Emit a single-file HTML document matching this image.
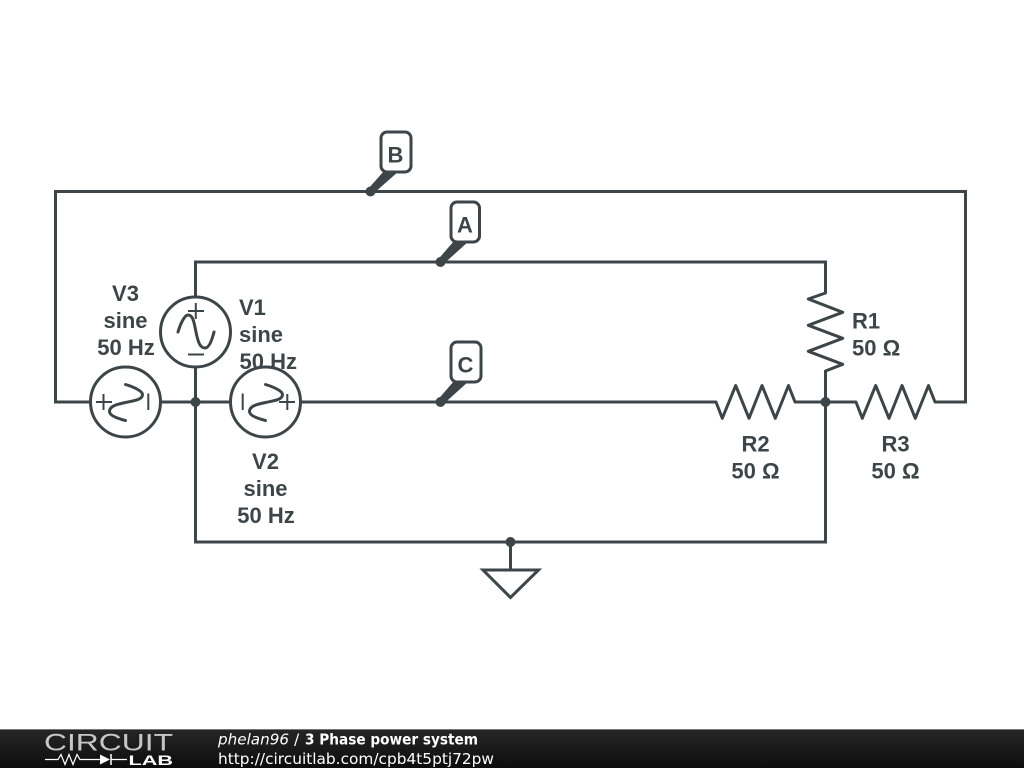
<!DOCTYPE html>
<html>
<head>
<meta charset="utf-8">
<style>
html,body{margin:0;padding:0;background:#fff;width:1024px;height:768px;overflow:hidden}
svg{display:block}
.w{fill:none;stroke:#3d4549;stroke-width:3;stroke-linejoin:miter}
.r{fill:none;stroke:#3d4549;stroke-width:3;stroke-linejoin:round;stroke-linecap:round}
.s{fill:none;stroke:#3d4549;stroke-width:2}
.t{font-family:"Liberation Sans",sans-serif;font-weight:bold;font-size:22px;fill:#3d4549}
.c{text-anchor:middle}
.f{font-family:"DejaVu Sans",sans-serif;font-size:15.4px;fill:#fff}
</style>
</head>
<body>
<svg width="1024" height="768" viewBox="0 0 1024 768" xmlns="http://www.w3.org/2000/svg">
<defs>
<linearGradient id="g" x1="0" y1="0" x2="0" y2="1">
<stop offset="0" stop-color="#262626"/><stop offset="0.5" stop-color="#1a1a1a"/><stop offset="1" stop-color="#0c0c0c"/>
</linearGradient>
<path id="sn" class="r" d="M-17.500 0C-14.500 -10 -10.500 -17 -7.500 -17C-2.500 -17 -1.500 -10 0.500 0C2.500 10 4.500 16 9.500 16C13.500 16 16.500 8 18.500 0"/>
</defs>
<rect width="1024" height="768" fill="#fff"/>

<!-- wires -->
<path class="w" d="M90.500 402H55.500V191.500H965.500V402H935"/>
<path class="w" d="M195.500 297V262H825.500V293"/>
<path class="w" d="M195.500 367V542H825.500V371"/>
<path class="w" d="M160.500 402H230.500"/>
<path class="w" d="M300.500 402H716"/>
<path class="w" d="M795 402H856"/>
<path class="w" d="M510.500 542V570"/>

<!-- resistors -->
<path class="r" d="M825.500 293L808.300 299L842.700 312.300L808.300 325.300L842.700 338.300L808.300 351.300L842.700 364.300L825.500 371"/>
<path class="r" d="M716 402L722.300 418.300L735.700 385.500L749 418.300L762 385.500L775.300 418.300L788.500 385.500L795 402"/>
<path class="r" d="M856 402L862.300 418.300L875.700 385.500L889 418.300L902 385.500L915.300 418.300L928.500 385.500L935 402"/>

<!-- V1 -->
<circle class="w" cx="195.500" cy="332" r="35"/>
<use href="#sn" transform="translate(195.500 332)"/>
<path class="s" d="M188 311H204M195.800 303V319M188 354.500H204"/>

<!-- V2 -->
<circle class="w" cx="265.500" cy="402" r="35"/>
<use href="#sn" transform="translate(265.500 402) rotate(90)"/>
<path class="s" d="M242.700 393.500V410M279 402H295M287.300 394V410"/>

<!-- V3 -->
<circle class="w" cx="125.500" cy="402" r="35"/>
<use href="#sn" transform="translate(125.500 402) rotate(90)"/>
<path class="s" d="M148.300 393.500V410M96 402H112M103.500 394V410"/>

<!-- junctions -->
<g fill="#3d4549">
<circle cx="195.500" cy="402" r="5"/>
<circle cx="825.500" cy="402" r="5"/>
<circle cx="510.500" cy="542" r="5"/>
<circle cx="370.500" cy="191.500" r="5"/>
<circle cx="440.500" cy="262" r="5"/>
<circle cx="440.500" cy="402" r="5"/>
<path d="M368 189L384 171H399L373 194Z"/>
<path d="M438 259.500L454 241H469L443 264.500Z"/>
<path d="M438 399.500L454 381H469L443 404.500Z"/>
</g>

<!-- ground -->
<path class="w" d="M483 570H538.500L510.500 597.500Z"/>

<!-- net flags -->
<rect x="381" y="132" width="30" height="40" rx="6" fill="#fff" stroke="#3d4549" stroke-width="3"/>
<rect x="451" y="202" width="28.500" height="40" rx="6" fill="#fff" stroke="#3d4549" stroke-width="3"/>
<rect x="451" y="342" width="30" height="40" rx="6" fill="#fff" stroke="#3d4549" stroke-width="3"/>
<text class="t c" x="395.500" y="162.500">B</text>
<text class="t c" x="465" y="232.500">A</text>
<text class="t c" x="465.500" y="372.500">C</text>

<!-- labels -->
<text class="t c" x="125.500" y="301">V3</text>
<text class="t c" x="125.500" y="328">sine</text>
<text class="t c" x="126" y="355">50 Hz</text>
<text class="t" x="239" y="315">V1</text>
<text class="t" x="239" y="342">sine</text>
<text class="t" x="239.500" y="369">50 Hz</text>
<text class="t c" x="265.500" y="469">V2</text>
<text class="t c" x="265.500" y="496">sine</text>
<text class="t c" x="266" y="523">50 Hz</text>
<text class="t" x="852" y="328.500">R1</text>
<text class="t" x="852" y="355.500">50 Ω</text>
<text class="t c" x="755.500" y="451.500">R2</text>
<text class="t c" x="755.500" y="478.500">50 Ω</text>
<text class="t c" x="895.500" y="451.500">R3</text>
<text class="t c" x="895.500" y="478.500">50 Ω</text>

<!-- footer -->
<rect x="0" y="729" width="1024" height="39" fill="url(#g)"/>
<rect x="0" y="729" width="1024" height="1" fill="#777"/>
<text x="44" y="750.500" font-family="Liberation Sans, sans-serif" font-size="24" fill="#fff" fill-opacity="0.75" textLength="129" lengthAdjust="spacingAndGlyphs">CIRCUIT</text>
<path d="M45 759.500H58L61 754.500L65 764.500L69 754.500L73 764.500L77 754.500L80 759.500H100M111 759.500H127" fill="none" stroke="#fff" stroke-width="1.200"/>
<path d="M100 754.500V764.500L110 759.500Z" fill="#fff"/>
<path d="M111 754V765" stroke="#fff" stroke-width="1.500"/>
<text x="128.500" y="765" font-family="Liberation Sans, sans-serif" font-weight="bold" font-size="14" fill="#fff" textLength="44.500" lengthAdjust="spacingAndGlyphs">LAB</text>
<text class="f" x="218" y="744.500" font-style="italic" textLength="71" lengthAdjust="spacingAndGlyphs">phelan96</text>
<text class="f" x="294" y="744.500">/</text>
<text class="f" x="305" y="744.500" font-weight="bold" textLength="173" lengthAdjust="spacingAndGlyphs">3 Phase power system</text>
<text class="f" x="218" y="764" textLength="276" lengthAdjust="spacingAndGlyphs">http://circuitlab.com/cpb4t5ptj72pw</text>
</svg>
</body>
</html>
